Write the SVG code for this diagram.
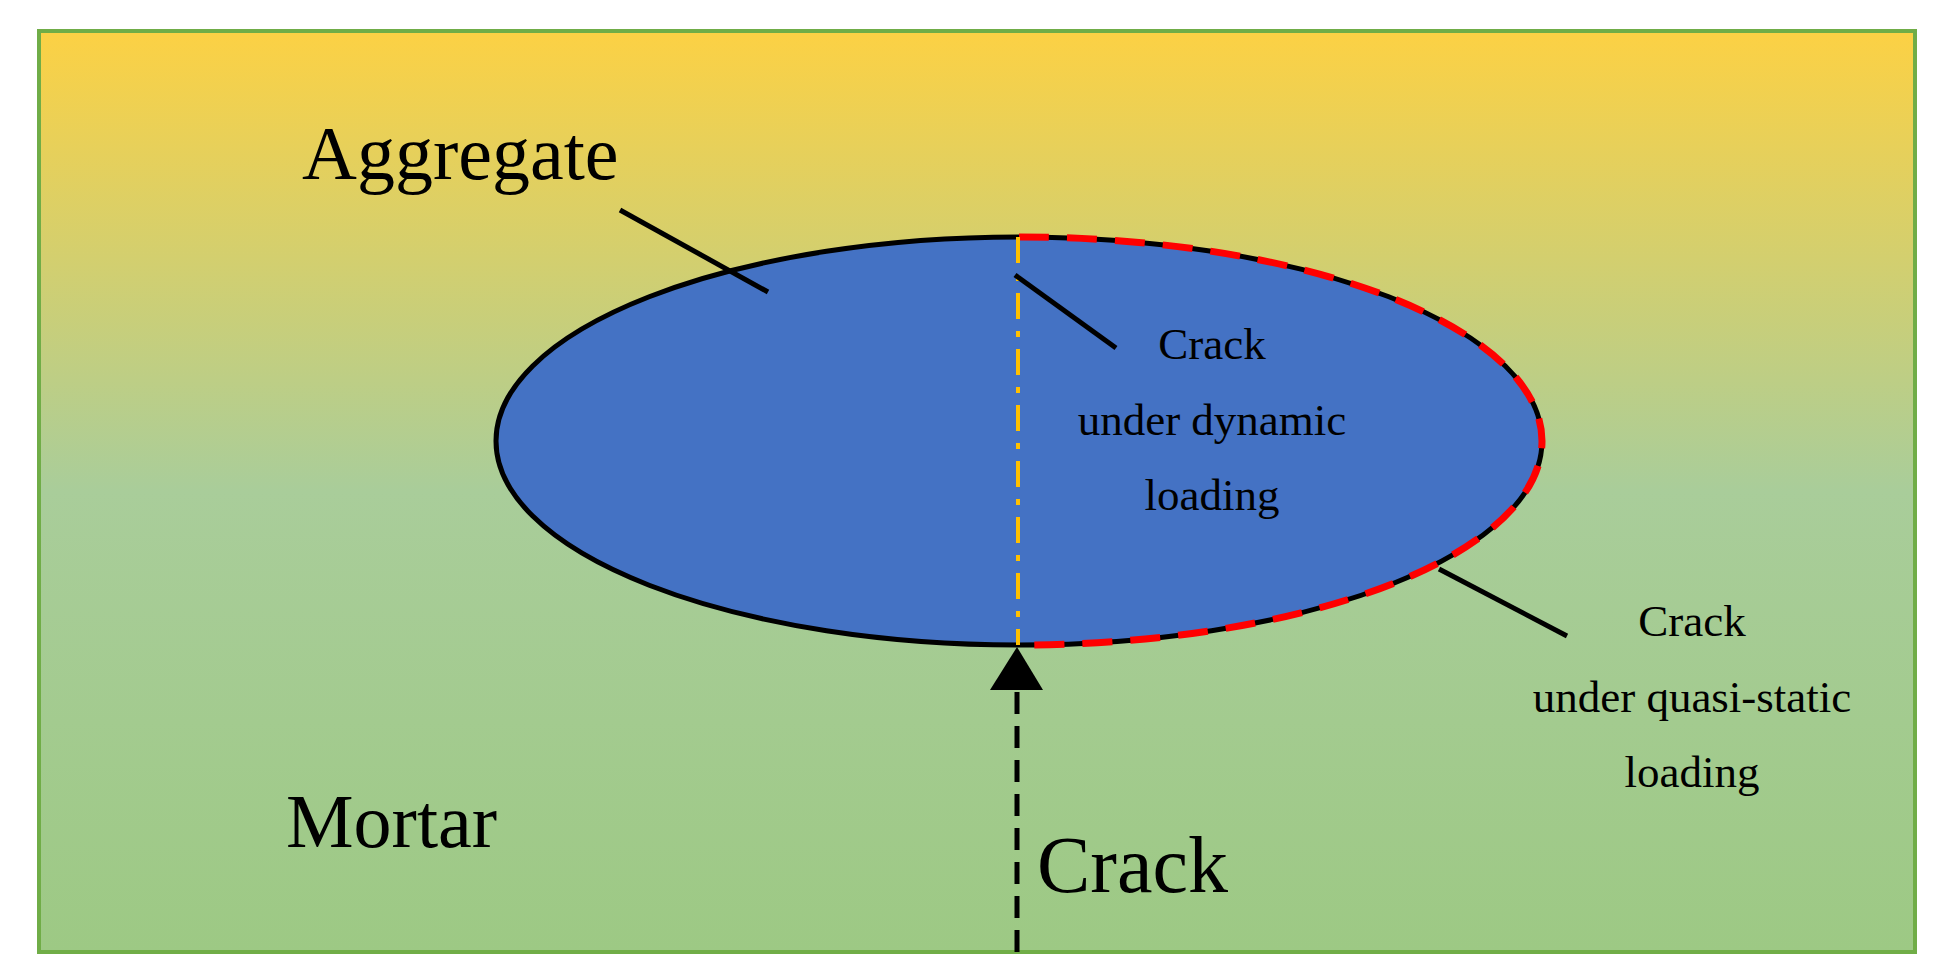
<svg xmlns="http://www.w3.org/2000/svg" width="1955" height="980" viewBox="0 0 1955 980">
<defs>
<linearGradient id="bg" x1="0" y1="0" x2="0" y2="1">
<stop offset="0" stop-color="#fcd144"/>
<stop offset="0.5" stop-color="#a9cd9a"/>
<stop offset="1" stop-color="#9dc984"/>
</linearGradient>
<marker id="ah" markerWidth="10" markerHeight="10" refX="10" refY="5" orient="auto" markerUnits="userSpaceOnUse" viewBox="0 0 10 10">
<path d="M0,0 L10,5 L0,10 z" fill="#000"/>
</marker>
<style>
.t{font-family:"Liberation Serif",serif;fill:#000}
.big{font-size:76px}
.sm{font-size:45px;text-anchor:middle}
.ld{stroke:#000;stroke-width:5;fill:none}
</style>
</defs>
<rect x="39" y="31" width="1876" height="921" fill="url(#bg)" stroke="#70ad47" stroke-width="4"/>
<g id="aggregate">
<ellipse cx="1019" cy="441" rx="523" ry="204" fill="#4472c4" stroke="#000" stroke-width="5"/>
<path d="M1019,237 A523,204 0 0 1 1019,645" fill="none" stroke="#ff0000" stroke-width="7" stroke-dasharray="30,18"/>
<line x1="1018" y1="237" x2="1018" y2="645" stroke="#ffc000" stroke-width="4" stroke-dasharray="26,12,6,12"/>
</g>
<g id="connectors">
<line x1="620" y1="210" x2="768" y2="292" class="ld"/>
<line x1="1015" y1="275" x2="1116" y2="348" class="ld"/>
<line x1="1439" y1="569" x2="1567" y2="636" class="ld"/>
<line x1="1017" y1="952" x2="1017" y2="690" stroke="#000" stroke-width="5" stroke-dasharray="22,12"/>
<path d="M990,690 L1043,690 L1017,647 z" fill="#000"/>
</g>
<g id="labels">
<text class="t big" x="302" y="179">Aggregate</text>
<text class="t big" x="286" y="847">Mortar</text>
<text class="t" x="1037" y="892" font-size="80">Crack</text>
<text class="t sm" x="1212" y="359">Crack</text>
<text class="t sm" x="1212" y="435">under dynamic</text>
<text class="t sm" x="1212" y="510">loading</text>
<text class="t sm" x="1692" y="636">Crack</text>
<text class="t sm" x="1692" y="712">under quasi-static</text>
<text class="t sm" x="1692" y="787">loading</text>
</g>
</svg>
